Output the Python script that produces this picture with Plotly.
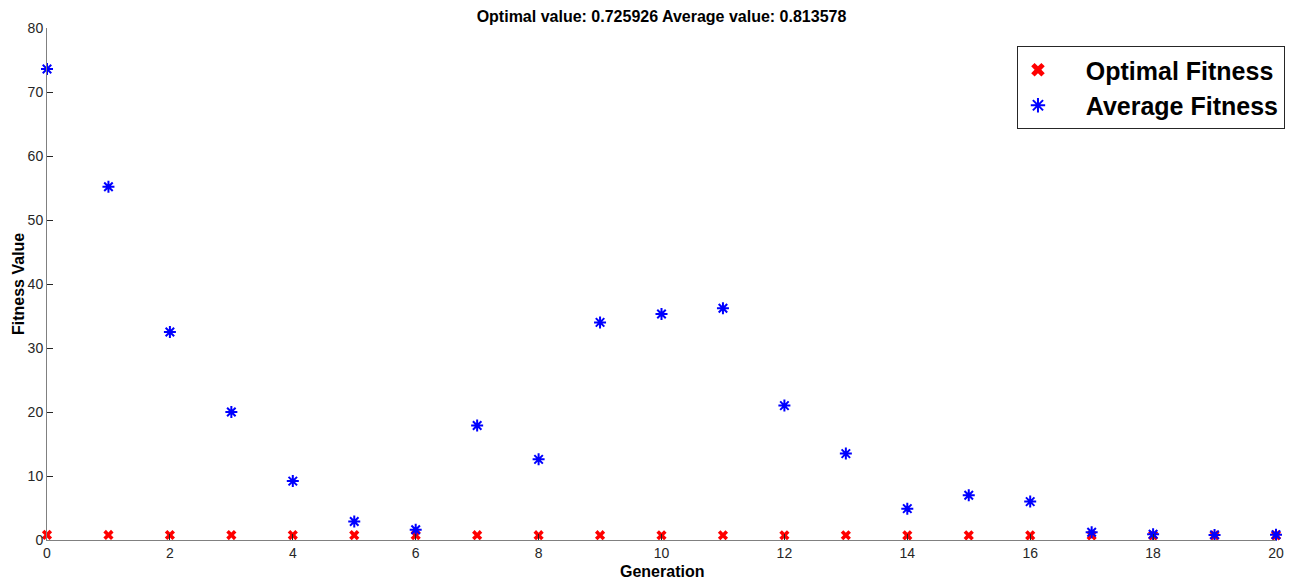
import plotly.graph_objects as go

generations = list(range(21))
optimal_fitness = [0.80, 0.79, 0.78, 0.77, 0.77, 0.76, 0.76, 0.75, 0.75, 0.75, 0.74,
                   0.74, 0.74, 0.74, 0.73, 0.73, 0.73, 0.73, 0.726, 0.726, 0.725926]
average_fitness = [73.6, 55.2, 32.5, 20.0, 9.2, 2.9, 1.6, 17.9, 12.6, 34.0, 35.3,
                   36.2, 21.0, 13.5, 4.9, 7.0, 6.0, 1.2, 0.9, 0.8, 0.813578]
x_ticks = list(range(0, 21, 2))
y_ticks = list(range(0, 81, 10))

font_family = "Liberation Sans, Arial, sans-serif"
pad = "\u00a0" * 4
W, H = 1289, 581
ML, MR, MT, MB = 47, 13, 28, 41
PH = H - MT - MB

fig = go.Figure()
fig.add_trace(go.Scatter(
    x=generations, y=optimal_fitness, mode="markers", name=pad + "<b>Optimal Fitness</b>",
    marker=dict(symbol="x", size=9, color="red", line=dict(width=0)),
    cliponaxis=False,
))
fig.add_trace(go.Scatter(
    x=generations, y=average_fitness, mode="markers", name=pad + "<b>Average Fitness</b>",
    marker=dict(symbol="asterisk-open", size=10, color="blue", line=dict(width=2, color="blue")),
    cliponaxis=False,
))

fig.update_layout(
    width=W, height=H,
    margin=dict(l=ML, r=MR, t=MT, b=MB, autoexpand=False),
    plot_bgcolor="white", paper_bgcolor="white",
    font=dict(family=font_family, size=14, color="#262626"),
    title=dict(text="<b>Optimal value: 0.725926 Average value: 0.813578</b>",
               x=0.5, xref="paper", xanchor="center", y=1 - 16 / H, yref="container",
               yanchor="middle", font=dict(size=16, color="#000"), automargin=False),
    showlegend=True,
    legend=dict(x=1.0073, xanchor="right", y=(H - MB - 46) / PH, yanchor="top",
                bordercolor="#262626", borderwidth=1, bgcolor="white",
                font=dict(size=25, color="#000", family=font_family),
                itemsizing="constant", tracegroupgap=0),
    annotations=[
        dict(text="<b>Generation</b>", xref="paper", yref="paper", x=0.5,
             y=-(571 - (H - MB)) / PH, xanchor="center", yanchor="middle",
             showarrow=False, font=dict(size=16, color="#000")),
        dict(text="<b>Fitness Value</b>", xref="paper", yref="paper",
             x=-(ML - 18) / (W - ML - MR), y=0.5, xanchor="center", yanchor="middle",
             textangle=-90, showarrow=False, font=dict(size=16, color="#000")),
    ],
)
fig.update_xaxes(
    range=[0, 20], tickvals=x_ticks, ticks="inside", ticklen=6, tickcolor="#262626",
    showline=True, linecolor="#808080", linewidth=1, showgrid=False, zeroline=False,
    automargin=False, tickfont=dict(size=14, color="#262626"),
)
fig.update_yaxes(
    range=[0, 80], tickvals=y_ticks, ticks="inside", ticklen=6, tickcolor="#262626",
    showline=True, linecolor="#808080", linewidth=1, showgrid=False, zeroline=False,
    automargin=False, tickfont=dict(size=14, color="#262626"),
)

fig.write_html("out.html", config={"displayModeBar": False},
               post_script="document.body.style.margin='0px';document.body.style.overflow='hidden';")
